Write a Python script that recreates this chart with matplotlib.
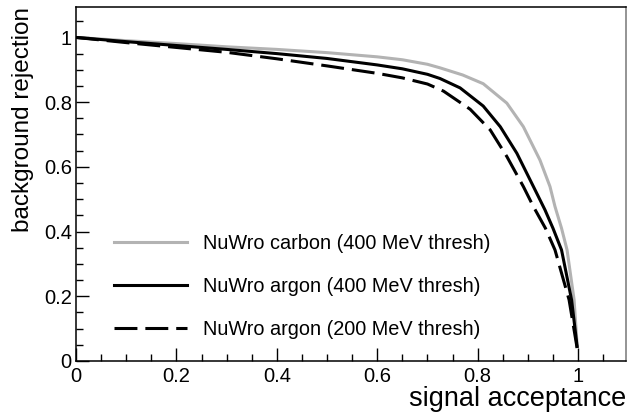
import matplotlib
matplotlib.use("Agg")
import matplotlib.pyplot as plt
from matplotlib.ticker import MultipleLocator

plt.rcParams['font.family'] = ['Liberation Sans', 'DejaVu Sans']

# signal acceptance / background rejection
carbon_x = [0, 0.1, 0.2, 0.3, 0.4, 0.5, 0.6, 0.65, 0.7, 0.725, 0.77, 0.811, 0.858, 0.891,
            0.924, 0.944, 0.954, 0.967, 0.978, 0.992, 0.998]
carbon_y = [1.0, 0.99, 0.981, 0.971, 0.963, 0.953, 0.94, 0.931, 0.917, 0.906, 0.884, 0.857, 0.797, 0.724,
            0.621, 0.539, 0.477, 0.41, 0.343, 0.189, 0.05]

argon400_x = [0, 0.1, 0.2, 0.3, 0.4, 0.5, 0.6, 0.65, 0.7, 0.725, 0.765, 0.811, 0.845, 0.878,
              0.911, 0.934, 0.95, 0.967, 0.987, 0.998]
argon400_y = [1.0, 0.987, 0.975, 0.963, 0.95, 0.935, 0.915, 0.903, 0.886, 0.873, 0.844, 0.788, 0.724, 0.642,
              0.539, 0.467, 0.41, 0.343, 0.189, 0.045]

argon200_x = [0, 0.1, 0.2, 0.3, 0.4, 0.5, 0.6, 0.65, 0.7, 0.732, 0.785, 0.825, 0.858, 0.891,
              0.911, 0.935, 0.954, 0.982, 0.998]
argon200_y = [1.0, 0.984, 0.969, 0.954, 0.934, 0.912, 0.889, 0.875, 0.856, 0.834, 0.778, 0.714, 0.632, 0.539,
              0.477, 0.41, 0.343, 0.189, 0.04]

labels = ['NuWro carbon (400 MeV thresh)',
          'NuWro argon (400 MeV thresh)',
          'NuWro argon (200 MeV thresh)']
ticks = [0, 0.2, 0.4, 0.6, 0.8, 1.0]
tick_labels = ['0', '0.2', '0.4', '0.6', '0.8', '1']

fig = plt.figure(figsize=(6.28, 4.13), dpi=100)
ax = fig.add_axes([0.121, 0.126, 0.876, 0.857])

lw = 2.2
ax.plot(carbon_x, carbon_y, color='#b3b3b3', lw=lw, label=labels[0])
ax.plot(argon400_x, argon400_y, color='black', lw=lw, label=labels[1])
ax.plot(argon200_x, argon200_y, color='black', lw=lw, ls=(0, (7.5, 2.6)), label=labels[2])

ax.set_xlim(0, 1.0956)
ax.set_ylim(0, 1.094)

ax.xaxis.set_minor_locator(MultipleLocator(0.05))
ax.yaxis.set_minor_locator(MultipleLocator(0.05))
ax.set_xticks(ticks)
ax.set_xticklabels(tick_labels)
ax.set_yticks(ticks)
ax.set_yticklabels(tick_labels)
ax.tick_params(which='both', direction='in', top=False, right=False, labelsize=14.5)
ax.tick_params(which='major', length=9.5, width=1)
ax.tick_params(which='minor', length=4.8, width=1)
ax.tick_params(axis='x', pad=4)
ax.tick_params(axis='y', pad=3)

for s in ax.spines.values():
    s.set_linewidth(1.1)
ax.spines['right'].set_color('#777777')

ax.set_xlabel('signal acceptance', fontsize=19.5, loc='right', labelpad=0)
ax.set_ylabel('background rejection', fontsize=17.5, loc='top', labelpad=7)

ax.legend(loc='lower left', bbox_to_anchor=(0.051, 0.035), frameon=False, borderpad=0,
          fontsize=14.3, handlelength=3.7, handletextpad=0.8, labelspacing=1.2)

fig.savefig('out.png', dpi=100)
